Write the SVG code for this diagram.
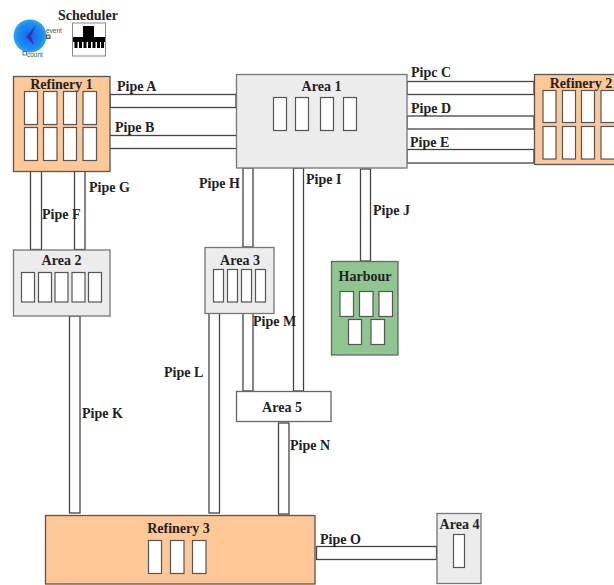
<svg xmlns="http://www.w3.org/2000/svg" width="614" height="585" viewBox="0 0 614 585">
<style>
text{font-family:"Liberation Serif","Times New Roman",serif;font-weight:bold;font-size:14px;fill:#222}
.c{text-anchor:middle}
.pipe{fill:#fff;stroke:#444;stroke-width:1.3}
.o{fill:#fdc896;stroke:#555;stroke-width:1.3}
.g{fill:#ececec;stroke:#777;stroke-width:1.3}
.w{fill:#fff;stroke:#555;stroke-width:1.2}
.s{font-family:"Liberation Sans",Arial,sans-serif;font-weight:normal;font-size:6.500px;fill:#1f6b35}
</style>
<defs>
<radialGradient id="ball" cx="50%" cy="50%" r="55%"><stop offset="0" stop-color="#1466f2"/><stop offset="0.7" stop-color="#1a8ef2"/><stop offset="1" stop-color="#38b2f6"/></radialGradient>
</defs>
<rect width="614" height="585" fill="#fff"/>
<g id="connectors">
<rect class="pipe" x="110" y="94.500" width="126" height="13"/>
<rect class="pipe" x="109" y="135.500" width="128" height="13"/>
<rect class="pipe" x="407" y="81.500" width="127" height="13"/>
<rect class="pipe" x="407" y="116" width="127" height="13"/>
<rect class="pipe" x="407" y="149.500" width="127" height="13.500"/>
<rect class="pipe" x="30.500" y="171" width="11" height="78.500"/>
<rect class="pipe" x="74.500" y="171" width="10.500" height="78.500"/>
<rect class="pipe" x="243" y="168" width="10" height="79"/>
<rect class="pipe" x="293.500" y="168" width="10" height="223"/>
<rect class="pipe" x="360.500" y="169" width="10" height="92"/>
<rect class="pipe" x="69.500" y="316" width="10.500" height="197"/>
<rect class="pipe" x="209" y="313" width="10.500" height="200"/>
<rect class="pipe" x="243" y="313" width="10" height="78"/>
<rect class="pipe" x="278.500" y="423" width="10.500" height="91"/>
<rect class="pipe" x="316.500" y="546.500" width="120" height="13"/>
<text x="117" y="91">Pipe A</text>
<text x="115" y="132">Pipe B</text>
<text x="411" y="77">Pipc C</text>
<text x="411" y="113">Pipe D</text>
<text x="410" y="147">Pipe E</text>
<text x="42" y="219">Pipe F</text>
<text x="89" y="192">Pipe G</text>
<text x="199" y="188">Pipe H</text>
<text x="306" y="184">Pipe I</text>
<text x="373" y="215">Pipe J</text>
<text x="82" y="418">Pipe K</text>
<text x="164" y="377">Pipe L</text>
<text x="253" y="326">Pipe M</text>
<text x="290" y="450">Pipe N</text>
<text x="320" y="544">Pipe O</text>
</g>
<g id="clock">
<circle cx="30" cy="36" r="16.500" fill="url(#ball)"/>
<path d="M36 25 L26 37 L34 45 L31 36 Z" fill="#3a2fa8"/>
<rect x="46.500" y="35" width="3.500" height="3.500" fill="#ccc" stroke="#333" stroke-width="0.800"/>
<rect x="23" y="51.500" width="3.500" height="3.500" fill="#fff" stroke="#555" stroke-width="0.800"/>
<text class="s" x="46" y="33">event</text>
<text class="s" x="27" y="57">count</text>
</g>
<g id="scheduler">
<text x="58" y="20">Scheduler</text>
<rect x="72.500" y="23" width="33" height="33" fill="#fff" stroke="#888" stroke-width="1"/>
<path d="M83 26 H94 V37 H105 V42 H104 V48 H101 V42 H100 V48 H97 V42 H95.500 V48 H92.500 V42 H91 V48 H88 V42 H86.500 V48 H83.500 V42 H82 V48 H79 V42 H77.500 V48 H74.500 V42 H73 V37 H83 Z" fill="#000"/>
</g>
<g id="refinery1">
<rect class="o" x="13.500" y="76.500" width="96.500" height="95"/>
<text class="c" x="61.500" y="89">Refinery 1</text>
<rect class="w" x="24.500" y="91.500" width="13" height="33"/><rect class="w" x="43.500" y="91.500" width="13.500" height="33"/><rect class="w" x="63.500" y="91.500" width="13" height="33"/><rect class="w" x="83" y="91.500" width="13.500" height="33"/>
<rect class="w" x="24.500" y="127.500" width="13" height="33"/><rect class="w" x="43.500" y="127.500" width="13.500" height="33"/><rect class="w" x="63.500" y="127.500" width="13" height="33"/><rect class="w" x="83" y="127.500" width="13.500" height="33"/>
</g>
<g id="area1">
<rect class="g" x="236.500" y="74.500" width="170.500" height="93.500"/>
<text class="c" x="321.500" y="91">Area 1</text>
<rect class="w" x="273.500" y="97.500" width="13" height="33"/><rect class="w" x="295.500" y="97.500" width="13" height="33"/><rect class="w" x="320.500" y="97.500" width="13" height="33"/><rect class="w" x="343.500" y="97.500" width="13" height="33"/>
</g>
<g id="refinery2">
<rect class="o" x="534.500" y="74.500" width="82" height="90"/>
<text class="c" x="581" y="88">Refinery 2</text>
<rect class="w" x="543" y="90.500" width="13" height="32"/><rect class="w" x="562.500" y="90.500" width="13" height="32"/><rect class="w" x="581.500" y="90.500" width="13" height="32"/><rect class="w" x="601" y="90.500" width="16" height="32"/>
<rect class="w" x="543" y="126.500" width="13" height="32.500"/><rect class="w" x="562.500" y="126.500" width="13" height="32.500"/><rect class="w" x="581.500" y="126.500" width="13" height="32.500"/><rect class="w" x="601" y="126.500" width="16" height="32.500"/>
</g>
<g id="area2">
<rect class="g" x="13.500" y="250" width="96.500" height="66"/>
<text class="c" x="61.500" y="265">Area 2</text>
<rect class="w" x="21.500" y="272.500" width="13" height="29.500"/><rect class="w" x="38.500" y="272.500" width="13" height="29.500"/><rect class="w" x="55" y="272.500" width="13" height="29.500"/><rect class="w" x="72" y="272.500" width="13" height="29.500"/><rect class="w" x="88.500" y="272.500" width="13" height="29.500"/>
</g>
<g id="area3">
<rect class="g" x="205" y="247.500" width="69" height="66"/>
<text class="c" x="240" y="265">Area 3</text>
<rect class="w" x="213.500" y="269.500" width="10" height="32.500"/><rect class="w" x="227.500" y="269.500" width="10" height="32.500"/><rect class="w" x="241.500" y="269.500" width="10" height="32.500"/><rect class="w" x="255.500" y="269.500" width="10" height="32.500"/>
</g>
<g id="harbour">
<rect x="331.500" y="261.500" width="66.500" height="93.500" fill="#8fc68f" stroke="#666" stroke-width="1.300"/>
<text class="c" x="365" y="281">Harbour</text>
<rect class="w" x="340" y="291.500" width="13.500" height="25"/><rect class="w" x="359.500" y="291.500" width="13.500" height="25"/><rect class="w" x="379" y="291.500" width="13.500" height="25"/>
<rect class="w" x="348.500" y="319.500" width="13" height="25"/><rect class="w" x="371" y="319.500" width="13.500" height="25"/>
</g>
<g id="area5">
<rect x="236.500" y="391.500" width="94.500" height="30" fill="#fff" stroke="#666" stroke-width="1.300"/>
<text class="c" x="282" y="412">Area 5</text>
</g>
<g id="refinery3">
<rect class="o" x="45.500" y="515.500" width="269.500" height="68.500"/>
<text class="c" x="178.500" y="533">Refinery 3</text>
<rect class="w" x="148.500" y="540.500" width="13" height="33"/><rect class="w" x="170.500" y="540.500" width="13.500" height="33"/><rect class="w" x="192.500" y="540.500" width="13.500" height="33"/>
</g>
<g id="area4">
<rect class="g" x="437" y="513.500" width="44" height="70"/>
<text class="c" x="459.500" y="529">Area 4</text>
<rect class="w" x="453.500" y="534.500" width="11" height="33"/>
</g>
</svg>
